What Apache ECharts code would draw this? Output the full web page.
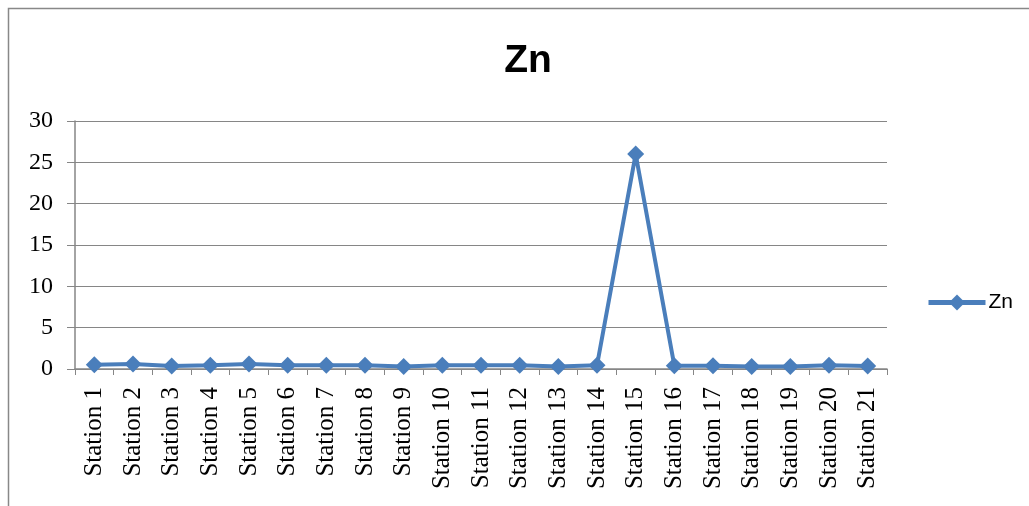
<!DOCTYPE html>
<html><head><meta charset="utf-8">
<script src="https://cdn.jsdelivr.net/npm/echarts@6/dist/echarts.min.js"></script>
<style>html,body{margin:0;padding:0;background:#fff}#c{width:1029px;height:506px}</style>
</head><body><div id="c"></div>
<script>
var categories = ["Station 1","Station 2","Station 3","Station 4","Station 5","Station 6","Station 7","Station 8","Station 9","Station 10","Station 11","Station 12","Station 13","Station 14","Station 15","Station 16","Station 17","Station 18","Station 19","Station 20","Station 21"];
var znValues = [0.5,0.6,0.35,0.45,0.6,0.45,0.45,0.45,0.3,0.45,0.45,0.45,0.3,0.45,26,0.4,0.4,0.3,0.3,0.45,0.35];
var yTicks = [0,5,10,15,20,25,30];

var chart = echarts.init(document.getElementById('c'));
chart.setOption({
  animation:false,
  graphic:[{type:'rect',shape:{x:8.5,y:8.5,width:1030,height:500},style:{fill:'none',stroke:'#888',lineWidth:1.5}}],
  title:{text:'Zn',left:523,top:37,textAlign:'center',textStyle:{fontFamily:'Liberation Sans, Arial',fontWeight:'bold',fontSize:39,color:'#000'}},
  legend:{left:926,top:292,padding:0,itemWidth:57,itemHeight:20,itemGap:3,
    lineStyle:{width:5},
    textStyle:{fontFamily:'Liberation Sans, Arial',fontSize:21,color:'#000',padding:[0,0,0,-2]},data:['Zn']},
  grid:{left:75,right:142,top:121,bottom:137,containLabel:false},
  xAxis:{type:'category',data:categories,boundaryGap:true,
    axisLine:{lineStyle:{color:'#868686',width:1.5}},
    axisTick:{show:true,length:6,lineStyle:{color:'#868686'},alignWithLabel:false},
    axisLabel:{rotate:90,interval:0,margin:18,fontFamily:'Liberation Serif, Times New Roman',fontSize:25,color:'#000'}},
  yAxis:{type:'value',min:yTicks[0],max:yTicks[yTicks.length-1],interval:5,
    axisLine:{show:true,lineStyle:{color:'#868686',width:1.5}},
    axisTick:{show:true,length:8,lineStyle:{color:'#868686'}},
    splitLine:{lineStyle:{color:'#868686',width:1.2}},
    axisLabel:{margin:22,fontFamily:'Liberation Serif, Times New Roman',fontSize:24,color:'#000'}},
  series:[{name:'Zn',type:'line',data:znValues,symbol:'diamond',symbolSize:17,
    lineStyle:{color:'#4A7EBB',width:4},itemStyle:{color:'#4A7EBB'}}]
});
</script></body></html>
